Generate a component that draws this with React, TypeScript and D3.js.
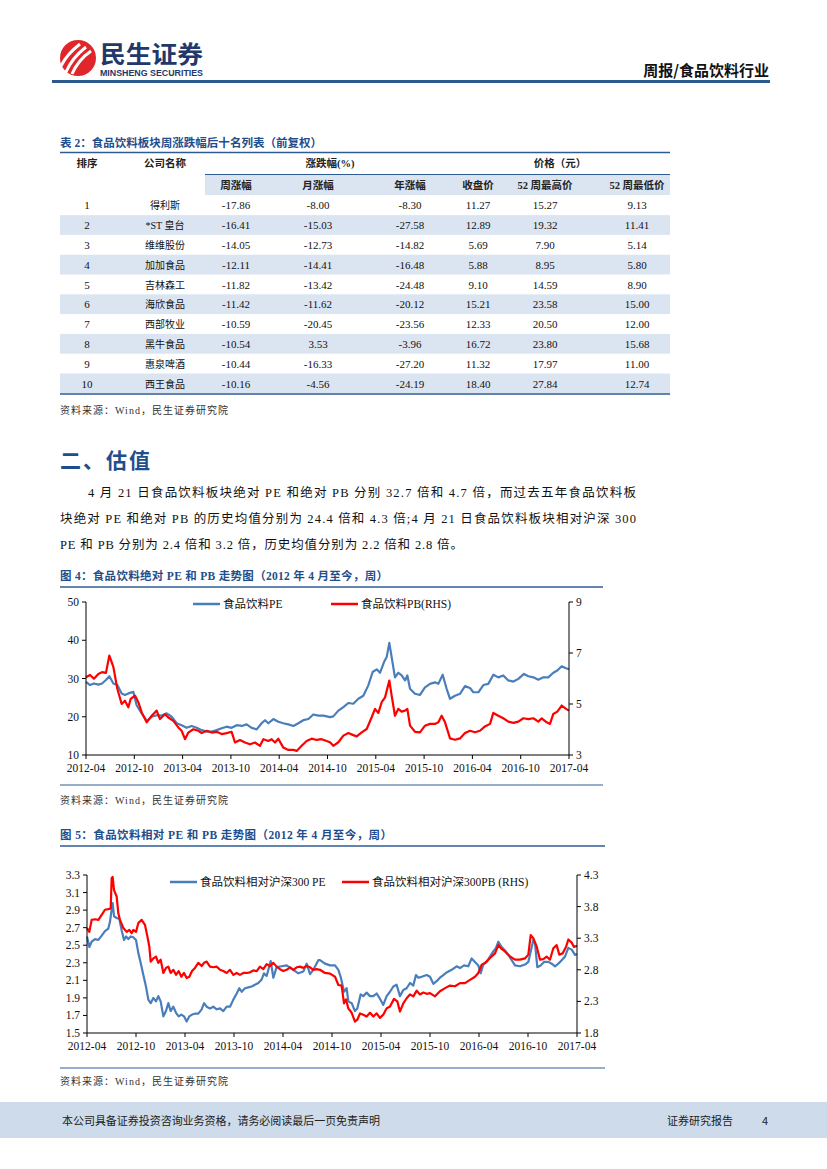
import React from "react";
import * as d3 from "d3";

const SERIF = "'Liberation Serif','Noto Sans CJK SC',serif";
const CJK = "'Noto Sans CJK SC','Liberation Serif',sans-serif";
const TITLE_BLUE = "#1f4e8c";
const LINE_BLUE = "#2f5b93";
const PE_BLUE = "#4a7ebb";
const PB_RED = "#ff0000";

// ---------- Table data ----------
const ranks = ["1", "2", "3", "4", "5", "6", "7", "8", "9", "10"];
const names = ["得利斯", "*ST 皇台", "维维股份", "加加食品", "吉林森工", "海欣食品", "西部牧业", "黑牛食品", "惠泉啤酒", "西王食品"];
const weekChg = ["-17.86", "-16.41", "-14.05", "-12.11", "-11.82", "-11.42", "-10.59", "-10.54", "-10.44", "-10.16"];
const monthChg = ["-8.00", "-15.03", "-12.73", "-14.41", "-13.42", "-11.62", "-20.45", "3.53", "-16.33", "-4.56"];
const yearChg = ["-8.30", "-27.58", "-14.82", "-16.48", "-24.48", "-20.12", "-23.56", "-3.96", "-27.20", "-24.19"];
const closePx = ["11.27", "12.89", "5.69", "5.88", "9.10", "15.21", "12.33", "16.72", "11.32", "18.40"];
const high52 = ["15.27", "19.32", "7.90", "8.95", "14.59", "23.58", "20.50", "23.80", "17.97", "27.84"];
const low52 = ["9.13", "11.41", "5.14", "5.80", "8.90", "15.00", "12.00", "15.68", "11.00", "12.74"];

// ---------- Chart tick labels ----------
const xTickLabels = ["2012-04", "2012-10", "2013-04", "2013-10", "2014-04", "2014-10", "2015-04", "2015-10", "2016-04", "2016-10", "2017-04"];
const c1LeftTicks = [10, 20, 30, 40, 50];
const c1RightTicks = [3, 5, 7, 9];
const c2LeftTicks = [1.5, 1.7, 1.9, 2.1, 2.3, 2.5, 2.7, 2.9, 3.1, 3.3];
const c2RightTicks = [1.8, 2.3, 2.8, 3.3, 3.8, 4.3];

// ---------- Series: [months since 2012-04, value] ----------
const pe1: [number, number][] = [
  [0, 29.1], [0.5, 28.3], [0.99, 28.7], [1.53, 28.4], [1.99, 28.7], [2.48, 29.6], [2.9, 30.6], [3.4, 28.7], [3.89, 28.3],
  [4.43, 26.1], [4.84, 25.7], [5.26, 26.1], [5.88, 26.5], [6.29, 23], [6.92, 20.9], [7.54, 18.9], [8.16, 20], [8.78, 20.4],
  [9.4, 20.3], [10.02, 20.9], [10.64, 20], [11.26, 18.3], [11.88, 17.8], [12.5, 17.1], [13.12, 17.6], [13.75, 17.1],
  [14.37, 16.5], [14.99, 16.1], [15.61, 16.1], [16.23, 16.5], [16.85, 17], [17.47, 17.4], [18.09, 17.1], [18.72, 17.8],
  [19.34, 17.6], [19.96, 18], [20.58, 17.1], [21.2, 16.7], [21.82, 18.3], [22.24, 19.1], [22.65, 18.3], [23.27, 19.4],
  [23.89, 18.7], [24.51, 18.3], [25.13, 18], [25.76, 17.6], [26.38, 18.3], [27, 19.1], [27.62, 19.4], [28.24, 20.6],
  [28.86, 20.3], [29.48, 20.3], [30.31, 19.9], [30.72, 20.1], [31.35, 21.6], [31.97, 22.5], [32.59, 23.6], [33.21, 23.4],
  [33.83, 24.7], [34.45, 25.5], [35.07, 28.2], [35.61, 31.7], [36.11, 32.4], [36.52, 31.5], [37.02, 34.3], [37.35, 35.6],
  [37.68, 39.3], [37.97, 35.6], [38.38, 30.3], [38.8, 31.5], [39.21, 30.8], [39.63, 29.5], [39.92, 30.8], [40.25, 27.3],
  [40.87, 26], [41.49, 25.7], [42.11, 27.7], [42.73, 28.6], [43.35, 29], [43.77, 28.6], [44.31, 31], [44.8, 27.3],
  [45.22, 24.7], [45.84, 25.5], [46.46, 26], [47.08, 28], [47.7, 27.5], [48.12, 26.4], [48.74, 26.4], [49.36, 28.3],
  [49.98, 28.6], [50.6, 31], [51.22, 30.3], [51.84, 30.8], [52.46, 29.5], [53.09, 29.2], [53.71, 29.9], [54.41, 31.2],
  [54.95, 30.6], [55.57, 30.3], [56.19, 29.7], [56.81, 30.3], [57.43, 30.3], [58.05, 31.5], [58.55, 32.1], [59.09, 33.2],
  [59.63, 32.7], [60, 32.4],
];

const pb1: [number, number][] = [
  [0, 6.05], [0.5, 6.14], [0.99, 5.99], [1.53, 6.18], [1.99, 6.25], [2.48, 6.22], [2.9, 6.9], [3.19, 6.64], [3.4, 6.45],
  [3.89, 5.6], [4.43, 5.0], [4.84, 5.13], [5.26, 4.87], [5.55, 5.2], [6.09, 5.33], [6.5, 5.07], [6.92, 4.67], [7.54, 4.28],
  [8.16, 4.54], [8.78, 4.74], [9.19, 4.41], [9.81, 4.6], [10.23, 4.47], [10.85, 4.34], [11.47, 4.08], [11.88, 3.95],
  [12.3, 3.62], [12.71, 3.88], [13.33, 4.01], [13.95, 3.95], [14.37, 3.86], [14.99, 3.95], [15.61, 3.88], [16.23, 3.91],
  [16.85, 3.82], [17.47, 3.86], [18.09, 3.91], [18.51, 3.49], [19.13, 3.59], [19.75, 3.49], [20.37, 3.42], [20.99, 3.49],
  [21.61, 3.36], [22.03, 3.62], [22.65, 3.55], [23.06, 3.62], [23.48, 3.49], [23.89, 3.64], [24.51, 3.29], [25.13, 3.2],
  [25.76, 3.2], [26.17, 3.16], [26.79, 3.36], [27.41, 3.55], [28.03, 3.64], [28.65, 3.59], [29.27, 3.62], [29.89, 3.55],
  [30.31, 3.5], [30.72, 3.36], [31.35, 3.5], [31.97, 3.76], [32.59, 3.86], [33.21, 3.78], [33.63, 3.73], [34.25, 3.89],
  [34.87, 4.02], [35.49, 4.48], [35.9, 4.81], [36.32, 4.65], [36.73, 5.07], [37.15, 5.26], [37.68, 5.92], [37.97, 5.33],
  [38.38, 4.54], [38.8, 4.81], [39.21, 4.7], [39.63, 4.74], [39.92, 4.81], [40.25, 4.15], [40.87, 3.91], [41.49, 3.89],
  [42.11, 4.15], [42.73, 4.22], [43.35, 4.22], [43.77, 4.28], [44.18, 4.54], [44.6, 4.28], [45.22, 3.65], [45.84, 3.6],
  [46.46, 3.65], [47.08, 3.86], [47.7, 3.95], [48.32, 3.89], [48.94, 3.95], [49.56, 4.12], [50.19, 4.22], [50.6, 4.65],
  [51.22, 4.54], [51.84, 4.44], [52.46, 4.31], [53.09, 4.26], [53.71, 4.31], [54.33, 4.44], [54.95, 4.41], [55.57, 4.44],
  [56.19, 4.31], [56.61, 4.44], [57.23, 4.28], [57.64, 4.22], [58.05, 4.61], [58.55, 4.7], [59.09, 4.94], [59.63, 4.81],
  [60, 4.74],
];

const relPe: [number, number][] = [
  [0, 2.6], [0.29, 2.48], [0.57, 2.54], [0.98, 2.57], [1.39, 2.56], [1.8, 2.61], [2.2, 2.66], [2.61, 2.69], [2.82, 2.77],
  [3.02, 2.91], [3.14, 2.98], [3.31, 2.83], [3.63, 2.81], [3.96, 2.8], [4.24, 2.67], [4.53, 2.56], [4.78, 2.6], [5.06, 2.57],
  [5.35, 2.6], [5.67, 2.59], [6.0, 2.56], [6.29, 2.41], [6.57, 2.3], [6.9, 2.16], [7.22, 2.03], [7.51, 1.88], [7.8, 1.84],
  [8.12, 1.9], [8.45, 1.86], [8.73, 1.92], [9.02, 1.86], [9.35, 1.69], [9.67, 1.75], [9.96, 1.84], [10.24, 1.75],
  [10.57, 1.8], [10.9, 1.73], [11.22, 1.69], [11.55, 1.71], [11.88, 1.69], [12.2, 1.63], [12.53, 1.69], [12.86, 1.71],
  [13.22, 1.72], [13.63, 1.72], [14.04, 1.77], [14.33, 1.84], [14.65, 1.8], [15.06, 1.78], [15.47, 1.8], [15.88, 1.77],
  [16.29, 1.78], [16.69, 1.75], [17.1, 1.8], [17.51, 1.8], [17.92, 1.88], [18.33, 1.95], [18.65, 2.01], [18.94, 1.97],
  [19.35, 2.01], [19.76, 2.02], [20.16, 2.03], [20.57, 2.05], [20.98, 2.07], [21.39, 2.11], [21.67, 2.18], [22, 2.15],
  [22.49, 2.32], [22.82, 2.13], [23.22, 2.25], [23.84, 2.26], [24.45, 2.27], [25.27, 2.22], [25.88, 2.18], [26.49, 2.2],
  [26.9, 2.29], [27.31, 2.17], [27.71, 2.22], [28.33, 2.33], [28.53, 2.33], [29.14, 2.29], [29.76, 2.27], [30.37, 2.27],
  [30.78, 2.22], [31.06, 2.14], [31.47, 1.97], [31.79, 2.01], [32, 1.86], [32.41, 1.84], [32.81, 1.75], [33.1, 1.78],
  [33.51, 1.94], [33.83, 1.92], [34.24, 1.96], [34.65, 1.92], [35.06, 1.92], [35.47, 1.95], [35.87, 1.89], [36.28, 1.82],
  [36.69, 1.92], [37.1, 1.97], [37.51, 2.03], [37.91, 2.05], [38.32, 1.92], [38.73, 1.99], [39.14, 2.01], [39.55, 2.07],
  [39.96, 2.04], [40.28, 2.16], [40.57, 2.13], [40.98, 2.14], [41.59, 2.16], [42, 2.14], [42.41, 2.06], [42.81, 2.09],
  [43.22, 2.13], [43.63, 2.16], [44.04, 2.19], [44.65, 2.22], [45.26, 2.26], [45.67, 2.24], [46.16, 2.27], [46.69, 2.26],
  [47.1, 2.35], [47.51, 2.31], [47.92, 2.27], [48.2, 2.18], [48.53, 2.28], [48.94, 2.31], [49.34, 2.37], [49.75, 2.43],
  [50.08, 2.47], [50.37, 2.54], [50.77, 2.48], [51.18, 2.44], [51.59, 2.39], [52, 2.33], [52.41, 2.27], [53.02, 2.26],
  [53.63, 2.28], [54.04, 2.31], [54.65, 2.56], [54.86, 2.52], [55.14, 2.25], [55.55, 2.27], [55.96, 2.31], [56.49, 2.31],
  [56.9, 2.29], [57.31, 2.26], [57.71, 2.29], [58.12, 2.33], [58.53, 2.37], [58.94, 2.47], [59.35, 2.45], [59.76, 2.39],
  [60, 2.4],
];

const relPb: [number, number][] = [
  [0, 3.46], [0.29, 3.4], [0.57, 3.59], [0.98, 3.6], [1.39, 3.59], [1.8, 3.67], [2.2, 3.75], [2.61, 3.76], [2.9, 3.77],
  [3.02, 4.25], [3.14, 4.27], [3.31, 4.06], [3.63, 3.96], [3.84, 3.69], [4.04, 3.59], [4.45, 3.46], [4.86, 3.4], [5.18, 3.43],
  [5.47, 3.38], [5.67, 3.43], [6, 3.4], [6.29, 3.54], [6.69, 3.59], [7.1, 3.51], [7.39, 3.33], [7.63, 3.17], [7.8, 2.93],
  [8.12, 2.98], [8.45, 3.01], [8.73, 2.91], [9.02, 2.96], [9.35, 2.75], [9.67, 2.83], [9.96, 2.85], [10.24, 2.75],
  [10.57, 2.8], [10.9, 2.72], [11.22, 2.78], [11.55, 2.69], [11.88, 2.75], [12.2, 2.67], [12.53, 2.69], [12.86, 2.78],
  [13.22, 2.83], [13.63, 2.91], [14.04, 2.86], [14.33, 2.91], [14.65, 2.93], [15.06, 2.85], [15.47, 2.84], [15.88, 2.85],
  [16.29, 2.8], [16.69, 2.78], [17.1, 2.75], [17.51, 2.8], [17.92, 2.72], [18.33, 2.75], [18.73, 2.72], [19.14, 2.75],
  [19.55, 2.75], [19.96, 2.76], [20.37, 2.79], [20.78, 2.78], [21.18, 2.85], [21.59, 2.81], [22, 2.89], [22.41, 2.86],
  [22.82, 2.91], [23.22, 2.85], [23.63, 2.81], [24.04, 2.78], [24.45, 2.8], [24.86, 2.84], [25.27, 2.8], [25.67, 2.84],
  [26.08, 2.85], [26.49, 2.83], [26.9, 2.86], [27.31, 2.84], [27.71, 2.8], [28.12, 2.81], [28.53, 2.8], [29.14, 2.75],
  [29.76, 2.74], [30.37, 2.69], [30.78, 2.56], [31.18, 2.55], [31.47, 2.27], [31.71, 2.33], [32, 2.19], [32.41, 2.12],
  [32.81, 1.98], [33.1, 2.01], [33.43, 2.11], [33.83, 2.09], [34.24, 2.06], [34.65, 2.12], [35.06, 2.06], [35.47, 2.11],
  [35.87, 2.04], [36.28, 2.09], [36.69, 2.19], [37.1, 2.22], [37.59, 2.34], [38, 2.3], [38.32, 2.14], [38.73, 2.27],
  [39.14, 2.35], [39.55, 2.41], [39.96, 2.38], [40.37, 2.47], [40.77, 2.41], [41.18, 2.44], [41.59, 2.42], [42, 2.43],
  [42.61, 2.38], [43.22, 2.46], [43.84, 2.51], [44.45, 2.55], [45.06, 2.54], [45.67, 2.59], [46.28, 2.59], [46.9, 2.64],
  [47.51, 2.69], [47.92, 2.75], [48.33, 2.88], [48.73, 2.91], [49.14, 2.96], [49.55, 3.01], [49.96, 3.06], [50.37, 3.19],
  [50.77, 3.13], [51.18, 3.09], [51.8, 3.01], [52.41, 2.96], [53.02, 2.96], [53.63, 2.98], [54.04, 3.04], [54.33, 3.35],
  [54.65, 3.3], [55.06, 3.17], [55.47, 2.96], [55.88, 2.97], [56.28, 3.01], [56.69, 2.96], [57.1, 3.14], [57.51, 3.19],
  [57.83, 3.04], [58.24, 3.06], [58.65, 3.16], [58.94, 3.28], [59.35, 3.23], [59.63, 3.16], [60, 3.18],
];

type ChartProps = {
  x0: number; x1: number; yTop: number; yBot: number;
  leftDomain: [number, number]; rightDomain: [number, number];
  leftTicks: number[]; rightTicks: number[];
  leftFmt: (v: number) => string; rightFmt: (v: number) => string;
  leftSeries: [number, number][]; rightSeries: [number, number][];
  legend: { blueX: number; redX: number; y: number; blueLabel: string; redLabel: string };
};

function DualChart(p: ChartProps) {
  const x = d3.scaleLinear().domain([0, 60]).range([p.x0, p.x1]);
  const yL = d3.scaleLinear().domain(p.leftDomain).range([p.yBot, p.yTop]);
  const yR = d3.scaleLinear().domain(p.rightDomain).range([p.yBot, p.yTop]);
  const lineL = d3.line<[number, number]>().x((d) => x(d[0])).y((d) => yL(d[1]));
  const lineR = d3.line<[number, number]>().x((d) => x(d[0])).y((d) => yR(d[1]));
  const tickFont = { fontFamily: SERIF, fontSize: 11.5, fill: "#111" } as const;
  return (
    <g>
      <path d={lineL(p.leftSeries) || ""} fill="none" stroke={PE_BLUE} strokeWidth={2.2} strokeLinejoin="round" />
      <path d={lineR(p.rightSeries) || ""} fill="none" stroke={PB_RED} strokeWidth={2.2} strokeLinejoin="round" />
      <line x1={p.x0} x2={p.x0} y1={p.yTop} y2={p.yBot} stroke="#000" strokeWidth={1} />
      <line x1={p.x1} x2={p.x1} y1={p.yTop} y2={p.yBot} stroke="#000" strokeWidth={1} />
      <line x1={p.x0} x2={p.x1} y1={p.yBot} y2={p.yBot} stroke="#000" strokeWidth={1} />
      {p.leftTicks.map((t) => (
        <g key={"l" + t}>
          <line x1={p.x0 - 4} x2={p.x0} y1={yL(t)} y2={yL(t)} stroke="#000" />
          <text x={p.x0 - 7} y={yL(t) + 4} textAnchor="end" {...tickFont}>{p.leftFmt(t)}</text>
        </g>
      ))}
      {p.rightTicks.map((t) => (
        <g key={"r" + t}>
          <line x1={p.x1} x2={p.x1 + 4} y1={yR(t)} y2={yR(t)} stroke="#000" />
          <text x={p.x1 + 7} y={yR(t) + 4} textAnchor="start" {...tickFont}>{p.rightFmt(t)}</text>
        </g>
      ))}
      {xTickLabels.map((lab, i) => (
        <g key={lab}>
          <line x1={x(i * 6)} x2={x(i * 6)} y1={p.yBot} y2={p.yBot + 4} stroke="#000" />
          <text x={x(i * 6)} y={p.yBot + 17} textAnchor="middle" {...tickFont}>{lab}</text>
        </g>
      ))}
      <line x1={p.legend.blueX} x2={p.legend.blueX + 27} y1={p.legend.y} y2={p.legend.y} stroke={PE_BLUE} strokeWidth={2.5} />
      <text x={p.legend.blueX + 30} y={p.legend.y + 4} fontFamily={SERIF} fontSize={11.5} fill="#111">{p.legend.blueLabel}</text>
      <line x1={p.legend.redX} x2={p.legend.redX + 27} y1={p.legend.y} y2={p.legend.y} stroke={PB_RED} strokeWidth={2.5} />
      <text x={p.legend.redX + 30} y={p.legend.y + 4} fontFamily={SERIF} fontSize={11.5} fill="#111">{p.legend.redLabel}</text>
    </g>
  );
}

export default function App() {
  const colCenters = [87, 165, 236, 318, 410, 478, 545, 637];
  const rowTop = 195.3;
  const rowH = 19.8;
  const cols = [ranks, names, weekChg, monthChg, yearChg, closePx, high52, low52];
  const fmt1 = d3.format(".1f");
  const srcText = "资料来源：Wind，民生证券研究院";
  return (
    <div style={{ position: "absolute", left: 0, top: 0, width: 827, height: 1169, background: "#fff" }}>
      <svg width={827} height={1169} viewBox="0 0 827 1169" style={{ display: "block" }}>
        <rect x={0} y={0} width={827} height={1169} fill="#fff" />
        {/* Header logo */}
        <g>
          <circle cx={78} cy={58} r={18} fill="#e0262a" />
          <path d="M66,72 Q72,58 86,47" stroke="#fff" strokeWidth={3} fill="none" />
          <path d="M72,74 Q78,60 91,51" stroke="#fff" strokeWidth={3} fill="none" />
          <path d="M61,66 Q67,54 80,44" stroke="#fff" strokeWidth={3} fill="none" />
          <text x={100} y={63} fontFamily={CJK} fontWeight={700} fontSize={24} fill="#22386a" textLength={103} lengthAdjust="spacingAndGlyphs">民生证券</text>
          <text x={100} y={76} fontFamily="'Liberation Sans',Arial,sans-serif" fontWeight={700} fontSize={8.3} fill="#22386a" textLength={103} lengthAdjust="spacingAndGlyphs">MINSHENG SECURITIES</text>
        </g>
        <text x={769} y={76} textAnchor="end" fontFamily={CJK} fontWeight={700} fontSize={15} fill="#111">周报/食品饮料行业</text>
        <line x1={52} x2={770} y1={81.5} y2={81.5} stroke="#2c5a8c" strokeWidth={3} />

        {/* Table */}
        <text x={60} y={147} fontFamily={SERIF} fontWeight={700} fontSize={11.5} fill={TITLE_BLUE} textLength={262} lengthAdjust="spacing">表 2：食品饮料板块周涨跌幅后十名列表（前复权）</text>
        <line x1={60} x2={670} y1={152.5} y2={152.5} stroke={LINE_BLUE} strokeWidth={1.5} />
        <rect x={205} y={175} width={465} height={20} fill="#dbe5f1" />
        {ranks.map((_, i) => (i % 2 === 1 ? <rect key={"bg" + i} x={60} y={rowTop + i * rowH} width={610} height={rowH} fill="#dbe5f1" /> : null))}
        <line x1={205} x2={670} y1={174.5} y2={174.5} stroke={LINE_BLUE} strokeWidth={1} />
        <line x1={60} x2={670} y1={394} y2={394} stroke={LINE_BLUE} strokeWidth={1.5} />
        {[["排序", 87], ["公司名称", 165], ["涨跌幅(%)", 330], ["价格（元）", 560]].map(([t, cx]) => (
          <text key={t as string} x={cx as number} y={167} textAnchor="middle" fontFamily={SERIF} fontWeight={700} fontSize={10.5} fill="#222">{t}</text>
        ))}
        {[["周涨幅", 236], ["月涨幅", 318], ["年涨幅", 410], ["收盘价", 478], ["52 周最高价", 545], ["52 周最低价", 637]].map(([t, cx]) => (
          <text key={t as string} x={cx as number} y={189} textAnchor="middle" fontFamily={SERIF} fontWeight={700} fontSize={10.5} fill="#222">{t}</text>
        ))}
        {cols.map((col, ci) =>
          col.map((v, ri) => (
            <text key={ci + "-" + ri} x={colCenters[ci]} y={rowTop + ri * rowH + 14} textAnchor="middle" fontFamily={SERIF} fontSize={ci === 1 ? 10 : 11} fill="#111">{v}</text>
          ))
        )}
        <text x={60} y={414} fontFamily={SERIF} fontSize={10} fill="#333" textLength={168} lengthAdjust="spacing">{srcText}</text>

        {/* Section heading and paragraph */}
        <text x={60} y={468} fontFamily={CJK} fontWeight={700} fontSize={21} fill={TITLE_BLUE} textLength={90} lengthAdjust="spacing">二、估值</text>
        <text x={88} y={497} fontFamily={SERIF} fontSize={12.5} fill="#111" textLength={548} lengthAdjust="spacing">4 月 21 日食品饮料板块绝对 PE 和绝对 PB 分别 32.7 倍和 4.7 倍，而过去五年食品饮料板</text>
        <text x={60} y={523} fontFamily={SERIF} fontSize={12.5} fill="#111" textLength={576} lengthAdjust="spacing">块绝对 PE 和绝对 PB 的历史均值分别为 24.4 倍和 4.3 倍;4 月 21 日食品饮料板块相对沪深 300</text>
        <text x={60} y={549} fontFamily={SERIF} fontSize={12.5} fill="#111" textLength={403} lengthAdjust="spacing">PE 和 PB 分别为 2.4 倍和 3.2 倍，历史均值分别为 2.2 倍和 2.8 倍。</text>

        {/* Figure 4 */}
        <text x={60} y={580} fontFamily={SERIF} fontWeight={700} fontSize={11.5} fill={TITLE_BLUE} textLength={328} lengthAdjust="spacing">图 4：食品饮料绝对 PE 和 PB 走势图（2012 年 4 月至今，周）</text>
        <line x1={60} x2={603} y1={587} y2={587} stroke={LINE_BLUE} strokeWidth={1.5} />
        <DualChart
          x0={86} x1={569} yTop={602} yBot={755}
          leftDomain={[10, 50]} rightDomain={[3, 9]}
          leftTicks={c1LeftTicks} rightTicks={c1RightTicks}
          leftFmt={(v) => String(v)} rightFmt={(v) => String(v)}
          leftSeries={pe1} rightSeries={pb1}
          legend={{ blueX: 193, redX: 331, y: 604, blueLabel: "食品饮料PE", redLabel: "食品饮料PB(RHS)" }}
        />
        <line x1={60} x2={603} y1={785} y2={785} stroke={LINE_BLUE} strokeWidth={1} />
        <text x={60} y={804} fontFamily={SERIF} fontSize={10} fill="#333" textLength={168} lengthAdjust="spacing">{srcText}</text>

        {/* Figure 5 */}
        <text x={60} y={839} fontFamily={SERIF} fontWeight={700} fontSize={11.5} fill={TITLE_BLUE} textLength={332} lengthAdjust="spacing">图 5：食品饮料相对 PE 和 PB 走势图（2012 年 4 月至今，周）</text>
        <line x1={60} x2={605} y1={846} y2={846} stroke={LINE_BLUE} strokeWidth={1.5} />
        <DualChart
          x0={87} x1={577} yTop={875} yBot={1033}
          leftDomain={[1.5, 3.3]} rightDomain={[1.8, 4.3]}
          leftTicks={c2LeftTicks} rightTicks={c2RightTicks}
          leftFmt={fmt1} rightFmt={fmt1}
          leftSeries={relPe} rightSeries={relPb}
          legend={{ blueX: 170, redX: 342, y: 882, blueLabel: "食品饮料相对沪深300 PE", redLabel: "食品饮料相对沪深300PB (RHS)" }}
        />
        <line x1={60} x2={605} y1={1068} y2={1068} stroke={LINE_BLUE} strokeWidth={1} />
        <text x={60} y={1085} fontFamily={SERIF} fontSize={10} fill="#333" textLength={168} lengthAdjust="spacing">{srcText}</text>

        {/* Footer */}
        <rect x={0} y={1102} width={827} height={36} fill="#cddbea" />
        <text x={62} y={1125} fontFamily={CJK} fontSize={11} fill="#222" textLength={318} lengthAdjust="spacing">本公司具备证券投资咨询业务资格，请务必阅读最后一页免责声明</text>
        <text x={667} y={1125} fontFamily={CJK} fontSize={11} fill="#222">证券研究报告</text>
        <text x={762} y={1125} fontFamily={CJK} fontSize={11} fill="#222">4</text>
      </svg>
    </div>
  );
}
